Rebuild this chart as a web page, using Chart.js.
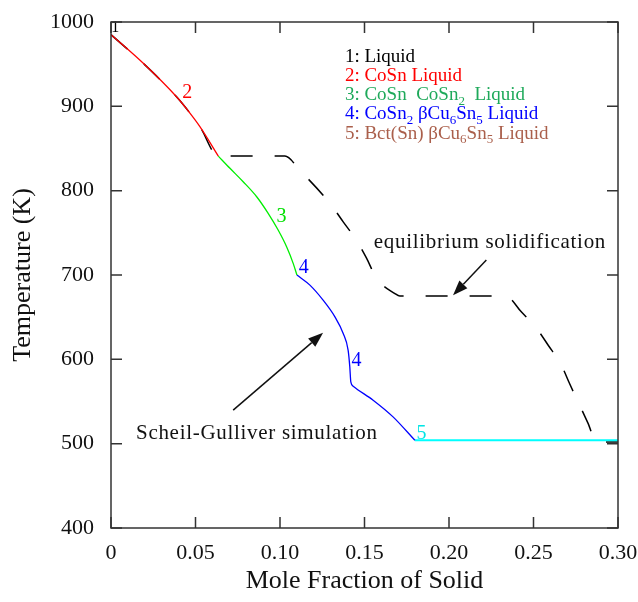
<!DOCTYPE html>
<html>
<head>
<meta charset="utf-8">
<script src="https://cdn.jsdelivr.net/npm/chart.js@4.4.0/dist/chart.umd.min.js"></script>
<style>
html, body { margin: 0; padding: 0; background: #fff; }
</style>
</head>
<body>
<canvas id="Chart1" width="638" height="602"></canvas>
<script>
// tick labels
var xTicks = [0, 0.05, 0.10, 0.15, 0.20, 0.25, 0.30];
var yTicks = [400, 500, 600, 700, 800, 900, 1000];

// Scheil-Gulliver path, split by phase region
var fracCoSn = [0, 0.0191, 0.0389, 0.0467, 0.0526, 0.0635];
var tempCoSn = [985, 951, 911, 892, 876, 841];

var fracCoSn2 = [0.0635, 0.0704, 0.0782, 0.0862, 0.0930, 0.0989, 0.1039, 0.1078, 0.1100];
var tempCoSn2 = [841, 826.5, 810.6, 792.8, 773.1, 753.3, 733.5, 713.8, 700];

var fracCu6Sn5 = [0.1100, 0.1177, 0.1255, 0.1325, 0.1374, 0.1403, 0.1413, 0.1419, 0.1433, 0.1551, 0.1669, 0.1798];
var tempCu6Sn5 = [700, 688, 670.2, 650.4, 630.7, 610.9, 591.1, 573.3, 568.2, 551.6, 531.8, 504];

var fracBct = [0.1798, 0.30];
var tempBct = [504, 504];

// equilibrium solidification path
var fracEquil = [0, 0.0191, 0.0389, 0.0467, 0.0526, 0.0635, 0.1029, 0.1118, 0.1295, 0.1374,
  0.1453, 0.1512, 0.1571, 0.168, 0.1709, 0.2336, 0.2429, 0.2517, 0.2586, 0.2665,
  0.2714, 0.2823, 0.2872, 0.30];
var tempEquil = [985, 951, 911, 892, 876, 841, 841, 824, 785, 763,
  741, 720, 696, 678, 675, 675, 656, 637, 617, 593,
  571, 524, 502, 502];

// phase region legend
var phaseNames = ['1: Liquid', '2: CoSn Liquid', '3: CoSn  CoSn_2  Liquid',
  '4: CoSn_2 \u03b2Cu_6Sn_5 Liquid', '5: Bct(Sn) \u03b2Cu_6Sn_5 Liquid'];
var phaseColors = ['#000000', '#ff0000', '#1ea95a', '#0000ff', '#aa5f4b'];

var SERIF = '"Liberation Serif", "Times New Roman", serif';

function pts(xs, ys) {
	return xs.map(function (x, i) { return { x: x, y: ys[i] }; });
}

// draws text where "_d" means a subscript digit
function richText(ctx, str, x, y, size) {
	var parts = str.split(/_(\d)/);
	for (var i = 0; i < parts.length; i++) {
		if (i % 2) {
			ctx.font = Math.round(size * 0.68) + 'px ' + SERIF;
			ctx.fillText(parts[i], x, y + size * 0.25);
		} else {
			ctx.font = size + 'px ' + SERIF;
			ctx.fillText(parts[i], x, y);
		}
		x += ctx.measureText(parts[i]).width;
	}
}

function arrow(ctx, x1, y1, x2, y2) {
	var a = Math.atan2(y2 - y1, x2 - x1);
	var len = 15, half = 5.5;
	var bx = x2 - len * Math.cos(a), by = y2 - len * Math.sin(a);
	ctx.beginPath();
	ctx.moveTo(x1, y1);
	ctx.lineTo(bx, by);
	ctx.stroke();
	ctx.beginPath();
	ctx.moveTo(x2, y2);
	ctx.lineTo(bx + half * Math.sin(a), by - half * Math.cos(a));
	ctx.lineTo(bx - half * Math.sin(a), by + half * Math.cos(a));
	ctx.closePath();
	ctx.fill();
}

// box round the plot with inward ticks on all four sides
var framePlugin = {
	id: 'frame',
	afterDraw: function (chart) {
		var ctx = chart.ctx, a = chart.chartArea;
		var xs = chart.scales.x, ys = chart.scales.y;
		var tl = 11;
		ctx.save();
		ctx.strokeStyle = '#333';
		ctx.lineWidth = 1.5;
		ctx.strokeRect(a.left, a.top, a.right - a.left, a.bottom - a.top);
		ctx.beginPath();
		xTicks.forEach(function (v) {
			var p = xs.getPixelForValue(v);
			ctx.moveTo(p, a.bottom); ctx.lineTo(p, a.bottom - tl);
			ctx.moveTo(p, a.top); ctx.lineTo(p, a.top + tl);
		});
		yTicks.forEach(function (v) {
			var p = ys.getPixelForValue(v);
			ctx.moveTo(a.left, p); ctx.lineTo(a.left + tl, p);
			ctx.moveTo(a.right, p); ctx.lineTo(a.right - tl, p);
		});
		ctx.stroke();
		ctx.restore();
	}
};

// curve numbers, phase legend and the two annotations
var notesPlugin = {
	id: 'notes',
	afterDatasetsDraw: function (chart) {
		var ctx = chart.ctx;
		var X = function (v) { return chart.scales.x.getPixelForValue(v); };
		var Y = function (v) { return chart.scales.y.getPixelForValue(v); };
		ctx.save();
		ctx.textBaseline = 'alphabetic';

		// region numbers along the Scheil curve
		ctx.textAlign = 'center';
		ctx.font = '16px ' + SERIF;
		ctx.fillStyle = '#000';
		ctx.fillText('1', X(0.0025), Y(988));
		ctx.font = '20px ' + SERIF;
		ctx.fillStyle = '#ff0000';
		ctx.fillText('2', X(0.0451), Y(909.5));
		ctx.fillStyle = '#00e000';
		ctx.fillText('3', X(0.1009), Y(763));
		ctx.fillStyle = '#0000ff';
		ctx.fillText('4', X(0.1141), Y(702));
		ctx.fillText('4', X(0.1453), Y(592));
		ctx.fillStyle = '#00e5e5';
		ctx.fillText('5', X(0.1837), Y(506));

		// phase legend
		ctx.textAlign = 'left';
		var lx = X(0.1384), ly = Y(952.9);
		phaseNames.forEach(function (name, i) {
			ctx.fillStyle = phaseColors[i];
			richText(ctx, name, lx, ly + i * 19.2, 19);
		});

		// annotations
		ctx.fillStyle = '#111';
		ctx.font = '21px ' + SERIF;
		ctx.letterSpacing = '0.7px';
		ctx.fillText('equilibrium solidification', X(0.1555), Y(731.6));
		ctx.fillText('Scheil-Gulliver simulation', X(0.0148), Y(506));
		ctx.letterSpacing = '0px';
		ctx.strokeStyle = '#111';
		ctx.lineWidth = 1.5;
		arrow(ctx, X(0.2221), Y(717.7), X(0.2024), Y(676));
		arrow(ctx, X(0.0723), Y(539.7), X(0.1255), Y(631.4));
		ctx.restore();
	}
};

var context = document.getElementById('Chart1').getContext('2d');

var myChart = new Chart(context, {
	type: 'scatter',
	data: {
		datasets: [
			{ data: pts(fracCoSn, tempCoSn), borderColor: '#ff0000', borderWidth: 1.3 },
			{ data: pts(fracCoSn2, tempCoSn2), borderColor: '#00ee00', borderWidth: 1.3 },
			{ data: pts(fracCu6Sn5, tempCu6Sn5), borderColor: '#0000ff', borderWidth: 1.3 },
			{ data: pts(fracBct, tempBct), borderColor: '#00ffff', borderWidth: 2 },
			// dashed line drawn last so it sits over the Scheil curve
			{ data: pts(fracEquil, tempEquil), borderColor: '#000000', borderWidth: 1.5, borderDash: [22, 22] }
		]
	},
	options: {
		responsive: false,
		animation: false,
		showLine: true,
		elements: {
			point: { radius: 0 },
			line: { cubicInterpolationMode: 'monotone', fill: false }
		},
		layout: { padding: { top: 22, right: 20, left: 0, bottom: 0 } },
		plugins: {
			legend: { display: false },
			tooltip: { enabled: false }
		},
		scales: {
			x: {
				type: 'linear',
				min: 0,
				max: 0.30,
				afterBuildTicks: function (s) { s.ticks = xTicks.map(function (v) { return { value: v }; }); },
				afterFit: function (s) { s.height = 74; s.paddingLeft = 0; s.paddingRight = 0; },
				grid: { display: false, drawTicks: false },
				border: { display: false },
				ticks: {
					autoSkip: false,
					maxRotation: 0,
					padding: 12,
					color: '#111',
					font: { family: SERIF, size: 22 },
					callback: function (v) { return v === 0 ? '0' : v.toFixed(2); }
				},
				title: {
					display: true,
					text: 'Mole Fraction of Solid',
					color: '#111',
					font: { family: SERIF, size: 26 },
					padding: { top: 0, bottom: 5 }
				}
			},
			y: {
				type: 'linear',
				min: 400,
				max: 1000,
				afterBuildTicks: function (s) { s.ticks = yTicks.map(function (v) { return { value: v }; }); },
				afterFit: function (s) { s.width = 111; s.paddingTop = 0; s.paddingBottom = 0; },
				grid: { display: false, drawTicks: false },
				border: { display: false },
				ticks: {
					padding: 17,
					color: '#111',
					font: { family: SERIF, size: 22 },
					callback: function (v) { return String(v); }
				},
				title: {
					display: true,
					text: 'Temperature (K)',
					color: '#111',
					font: { family: SERIF, size: 26 },
					padding: { top: 8, bottom: 0 }
				}
			}
		}
	},
	plugins: [framePlugin, notesPlugin]
});
</script>
</body>
</html>
